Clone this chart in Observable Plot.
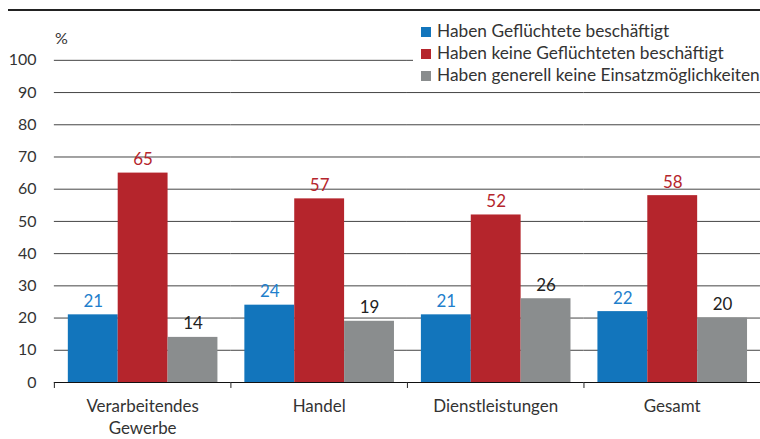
<!DOCTYPE html>
<html><head><meta charset="utf-8">
<script src="https://cdn.jsdelivr.net/npm/d3@7"></script>
<script src="https://cdn.jsdelivr.net/npm/@observablehq/plot@0.6"></script>
<style>
body{margin:0;background:#fff;font-family:"Source Sans Pro",Lato,"Noto Sans",sans-serif;}
#wrap{position:relative;width:760px;height:439px;overflow:hidden;}
#topline{position:absolute;left:8px;top:9px;width:752px;height:2px;background:#222;}
#pct{position:absolute;left:55px;top:28px;font-size:16px;color:#333;}
#legend{position:absolute;left:413px;top:20px;width:347px;background:#fff;padding-left:8px;box-sizing:border-box;}
#legend div{height:22px;line-height:22px;font-size:17.3px;color:#333;white-space:nowrap;}
#legend span.sw{display:inline-block;width:10px;height:10px;margin-right:6px;vertical-align:0px;}
</style></head>
<body><div id="wrap"><div id="chart"></div><div id="topline"></div><div id="pct">%</div><div id="legend"></div></div>
<script>
const groups = ["Verarbeitendes\nGewerbe", "Handel", "Dienstleistungen", "Gesamt"];
const series = ["Haben Geflüchtete beschäftigt", "Haben keine Geflüchteten beschäftigt", "Haben generell keine Einsatzmöglichkeiten"];
const beschaeftigt = [21, 24, 21, 22];
const keine = [65, 57, 52, 58];
const generell = [14, 19, 26, 20];
const colors = ["#1275bc", "#b5252c", "#8a8d8e"];
const labelColors = ["#1f7fcc", "#b5252c", "#222222"];
const yTicks = [0, 10, 20, 30, 40, 50, 60, 70, 80, 90, 100];

const valuesBySeries = [beschaeftigt, keine, generell];
const data = [];
groups.forEach((g, gi) => series.forEach((s, si) => data.push({group: g, series: s, si, value: valuesBySeries[si][gi]})));

const marks = [
  Plot.ruleY(yTicks.filter(d => d > 0), {stroke: "#444", strokeWidth: 1}),
  Plot.barY(data, {fx: "group", x: "series", y: "value", fill: "series"}),
  ...series.map((s, si) => Plot.text(data.filter(d => d.si === si), {
    fx: "group", x: "series", y: "value", text: d => String(d.value),
    fill: labelColors[si], fontSize: 17, lineAnchor: "bottom", dy: -8
  })),
  Plot.ruleY([0], {stroke: "#111", strokeWidth: 1.2}),
  Plot.ruleY(groups, {fx: d => d, y: 0, render: (index, scales, values, dims) => {
    const g = d3.create("svg:g");
    const [x0] = scales.x.range();
    const y0 = scales.y(0);
    g.append("line").attr("x1", x0 + 0.5).attr("x2", x0 + 0.5).attr("y1", y0).attr("y2", y0 + 6).attr("stroke", "#222");
    return g.node();
  }}),
  Plot.axisY({ticks: yTicks, tickSize: 0, tickPadding: 18, fontSize: 16, fill: "#333", label: null}),
  Plot.axisFx({anchor: "bottom", tickSize: 0, tickPadding: 14, fontSize: 17, fill: "#333", label: null, lineHeight: 1.3})
];

const plot = Plot.plot({
  width: 762, height: 439,
  marginLeft: 54, marginRight: 0, marginTop: 60, marginBottom: 56,
  style: {fontFamily: '"Source Sans Pro", Lato, "Noto Sans", sans-serif', background: "#fff"},
  fx: {domain: groups, padding: 0, label: null},
  x: {domain: series, paddingInner: 0, paddingOuter: 0.25, axis: null},
  y: {domain: [0, 100], label: null},
  color: {domain: series, range: colors},
  marks
});
document.getElementById("chart").appendChild(plot);

const leg = document.getElementById("legend");
series.forEach((s, i) => {
  const row = document.createElement("div");
  row.innerHTML = `<span class="sw" style="background:${colors[i]}"></span>${s}`;
  leg.appendChild(row);
});
</script></body></html>
